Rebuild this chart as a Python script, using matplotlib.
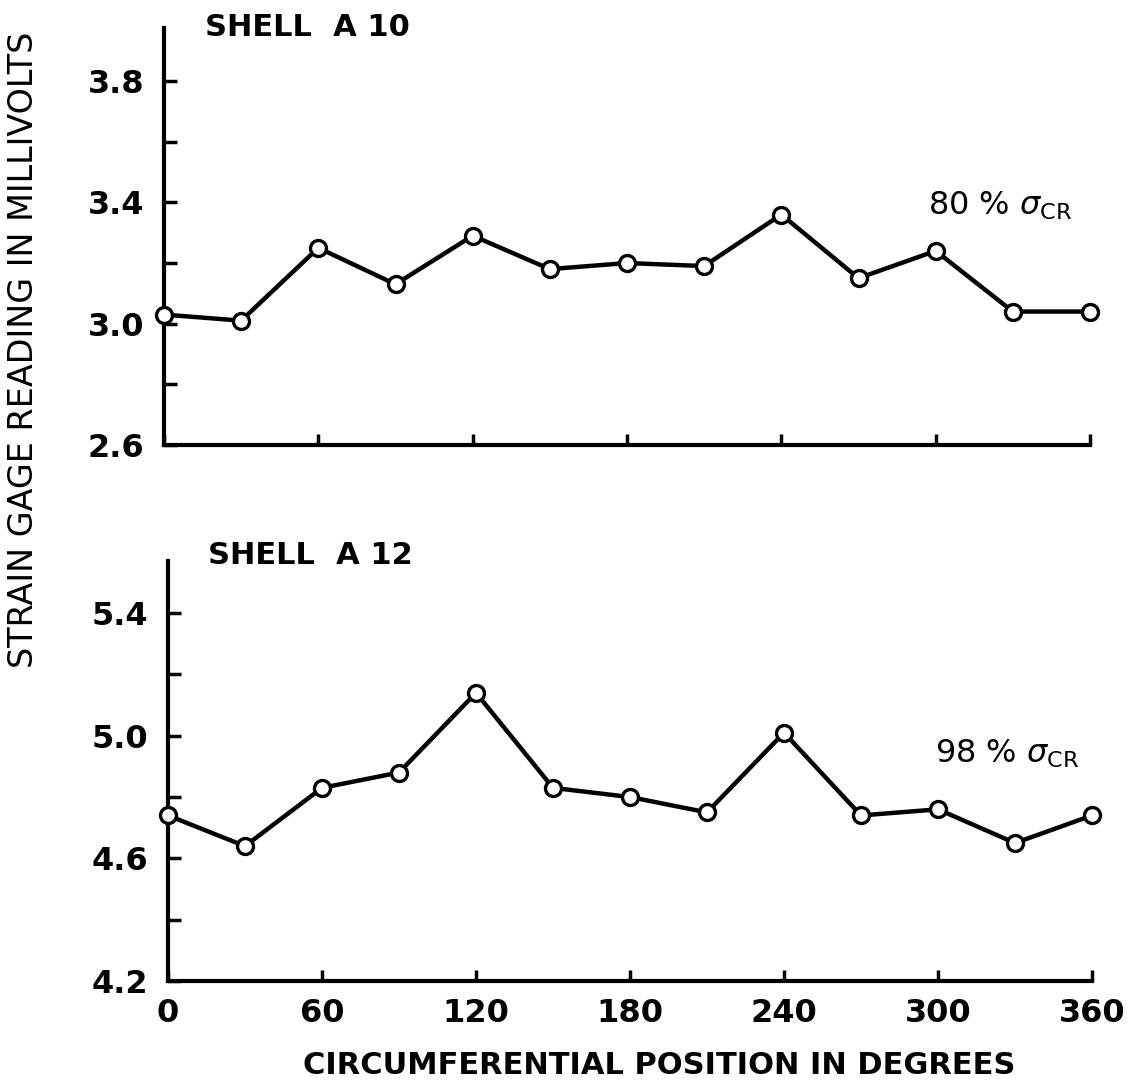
import numpy as np
import matplotlib
matplotlib.use("Agg")
import matplotlib.pyplot as plt

# circumferential positions, degrees
positions = [0, 30, 60, 90, 120, 150, 180, 210, 240, 270, 300, 330, 360]

# strain gage readings, millivolts
shell_a10 = [3.03, 3.01, 3.25, 3.13, 3.29, 3.18, 3.20, 3.19, 3.36, 3.15, 3.24, 3.04, 3.04]
shell_a12 = [4.74, 4.64, 4.83, 4.88, 5.14, 4.83, 4.80, 4.75, 5.01, 4.74, 4.76, 4.65, 4.74]

x_ticks = [0, 60, 120, 180, 240, 300, 360]
x_labels = ["0", "60", "120", "180", "240", "300", "360"]

a10_major = [2.6, 3.0, 3.4, 3.8]
a10_minor = [2.8, 3.2, 3.6]
a12_major = [4.2, 4.6, 5.0, 5.4]
a12_minor = [4.4, 4.8, 5.2]

W, H = 1136, 1087
fig = plt.figure(figsize=(W / 100, H / 100), dpi=100)
plt.rcParams["font.family"] = ["DejaVu Sans"]


def px_axes(left, right, top, bottom):
    return fig.add_axes([left / W, 1 - bottom / H, (right - left) / W, (bottom - top) / H])


def style_axes(ax, ylo, yhi, major, minor, labels_on):
    ax.set_xlim(0, 360)
    ax.set_ylim(ylo, yhi)
    for s in ["top", "right"]:
        ax.spines[s].set_visible(False)
    for s in ["left", "bottom"]:
        ax.spines[s].set_linewidth(3)
    ax.set_xticks(x_ticks)
    if labels_on:
        ax.set_xticklabels(x_labels, fontsize=23, fontweight="bold")
    else:
        ax.set_xticklabels([])
    ax.set_yticks(major)
    ax.set_yticklabels([f"{v:.1f}" for v in major], fontsize=23, fontweight="bold")
    ax.set_yticks(minor, minor=True)
    ax.tick_params(axis="y", which="both", direction="in", length=9, width=2.5, pad=14)
    ax.tick_params(axis="x", direction="in", length=8, width=2.5, pad=12)
    ax.patch.set_alpha(0)


def plot_series(ax, y):
    ax.plot(positions, y, color="black", linewidth=3.2, marker="o",
            markersize=11.5, markerfacecolor="white", markeredgecolor="black",
            markeredgewidth=2.4, clip_on=False, zorder=3)


ax1 = px_axes(164, 1090, 28, 445)
style_axes(ax1, 2.6, 3.975, a10_major, a10_minor, False)
plot_series(ax1, shell_a10)
ax1.text(297, 3.39, r"80 % $\sigma_{\mathrm{CR}}$", fontsize=23, va="center", ha="left")

ax2 = px_axes(168, 1092, 561, 981)
style_axes(ax2, 4.2, 5.57, a12_major, a12_minor, True)
plot_series(ax2, shell_a12)
ax2.text(299, 4.94, r"98 % $\sigma_{\mathrm{CR}}$", fontsize=23, va="center", ha="left")

fig.text(205 / W, 1 - 27 / H, "SHELL  A 10", fontsize=22, fontweight="bold", va="center", ha="left")
fig.text(208 / W, 1 - 556 / H, "SHELL  A 12", fontsize=22, fontweight="bold", va="center", ha="left")

fig.text(24 / W, 1 - 350 / H, "STRAIN GAGE READING IN MILLIVOLTS", fontsize=24,
         rotation=90, va="center", ha="center")
fig.text(659 / W, 1 - 1065 / H, "CIRCUMFERENTIAL POSITION IN DEGREES", fontsize=22,
         fontweight="bold", va="center", ha="center")

fig.savefig("out.png", dpi=100)
